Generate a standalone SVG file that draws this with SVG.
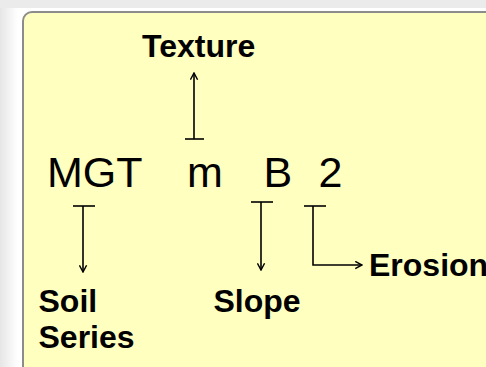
<svg xmlns="http://www.w3.org/2000/svg" width="486" height="367" viewBox="0 0 486 367">
  <defs>
    <linearGradient id="lg" x1="0" y1="0" x2="1" y2="0">
      <stop offset="0" stop-color="#e6e6e6"/>
      <stop offset="1" stop-color="#ffffff"/>
    </linearGradient>
    <marker id="arr" viewBox="0 0 10 10" refX="9" refY="5" markerWidth="9" markerHeight="9" markerUnits="userSpaceOnUse" orient="auto">
      <path d="M1.5,1 L9,5 L1.5,9" fill="none" stroke="#000" stroke-width="1.6"/>
    </marker>
    <style>
      .lbl { font-family: "Liberation Sans", Arial, sans-serif; font-weight: bold; font-size: 32px; fill: #000; }
      .code { font-family: "Liberation Sans", Arial, sans-serif; font-size: 43px; fill: #000; }
      .con { fill: none; stroke: #000; stroke-width: 1.6; }
    </style>
  </defs>
  <rect x="0" y="0" width="486" height="367" fill="#ffffff"/>
  <rect x="0" y="0" width="18" height="367" fill="url(#lg)"/>
  <rect x="0" y="0" width="486" height="8" fill="#ebebeb"/>
  <rect x="23" y="12" width="520" height="420" rx="9" fill="#ffffc0" stroke="#8c8c8c" stroke-width="2"/>

  <g id="code">
    <text class="code" y="187"><tspan x="47">MGT</tspan><tspan x="187">m</tspan><tspan x="263.5">B</tspan><tspan x="318.5">2</tspan></text>
  </g>
  <g id="texture"><text class="lbl" x="142" y="57">Texture</text></g>
  <g id="soil-series"><text class="lbl" x="38.5" y="312">Soil</text><text class="lbl" x="38.5" y="348">Series</text></g>
  <g id="slope"><text class="lbl" x="213.5" y="312">Slope</text></g>
  <g id="erosion"><text class="lbl" x="369" y="276">Erosion</text></g>

  <g id="connectors">
    <path class="con" d="M185,139 H204"/>
    <path class="con" d="M194,139 V73" marker-end="url(#arr)"/>
    <path class="con" d="M73,206 H95"/>
    <path class="con" d="M83,206 V272" marker-end="url(#arr)"/>
    <path class="con" d="M251,202 H273"/>
    <path class="con" d="M261,202 V270" marker-end="url(#arr)"/>
    <path class="con" d="M304,206 H326"/>
    <path class="con" d="M313,206 V265 H362" marker-end="url(#arr)"/>
  </g>
</svg>
